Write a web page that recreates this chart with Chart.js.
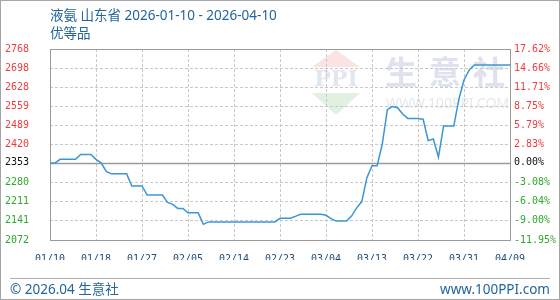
<!DOCTYPE html>
<html>
<head>
<meta charset="utf-8">
<script src="https://cdn.jsdelivr.net/npm/chart.js@4.4.1/dist/chart.umd.min.js"></script>
<style>
  html, body { margin: 0; padding: 0; background: #fff; }
  #wrap { position: relative; width: 560px; height: 300px; overflow: hidden;
          font-family: "Noto Sans", "Noto Sans CJK SC", sans-serif; color: #23659a; }
  #chart { position: absolute; left: 0; top: 0; }
  .txt { position: absolute; font-size: 13.5px; line-height: 18px; white-space: nowrap; }
  #frame { position: absolute; left: 0; top: 0; width: 560px; height: 300px;
           box-sizing: border-box; border: 1px solid #a6a6a6; pointer-events: none; }
  #sep { position: absolute; left: 10px; top: 278px; width: 540px; height: 1px; background: #b0b0b0; }
</style>
</head>
<body>
<div id="wrap">
  <canvas id="chart" width="560" height="300"></canvas>
  <div class="txt" style="left:50px; top:6px;">液氨 山东省 2026-01-10 - 2026-04-10</div>
  <div class="txt" style="left:50px; top:24px;">优等品</div>
  <div id="sep"></div>
  <div class="txt" style="left:10px; top:280px;">© 2026.04 生意社</div>
  <div class="txt" style="right:10px; top:280px;">www.100PPI.com</div>
  <div id="frame"></div>
</div>
<script>
// valori (un punto al giorno, 01/10 -> 04/10)
const basePrice = 2353;
const xTickLabels = ['01/10', '01/18', '01/27', '02/05', '02/14', '02/23', '03/04', '03/13', '03/22', '03/31', '04/09'];
const priceValues = [
  2353, 2353, 2366, 2366, 2366, 2366, 2384, 2384, 2384, 2366,
  2353, 2322, 2313, 2313, 2313, 2313, 2269, 2269, 2269, 2236,
  2236, 2236, 2236, 2209, 2202, 2187, 2187, 2171, 2171, 2171,
  2129, 2138, 2138, 2138, 2138, 2138, 2138, 2138, 2138, 2138,
  2138, 2138, 2138, 2138, 2138, 2151, 2151, 2151, 2158, 2166,
  2166, 2166, 2166, 2166, 2162, 2150, 2141, 2141, 2141, 2159,
  2189, 2212, 2299, 2343, 2343, 2420, 2547, 2558, 2554, 2531,
  2515, 2515, 2515, 2512, 2434, 2440, 2374, 2487, 2487, 2487,
  2585, 2655, 2691, 2710, 2710, 2710, 2710, 2710, 2710, 2710,
  2710
];
const yTickValues = [2072, 2141.6, 2211.2, 2280.8, 2353, 2420, 2489.6, 2559.2, 2628.8, 2698.4, 2768];
const yTickLabels = ['2072', '2141', '2211', '2280', '2353', '2420', '2489', '2559', '2628', '2698', '2768'];
const pctLabels = ['-11.95%', '-9.00%', '-6.04%', '-3.08%', '0.00%', '2.83%', '5.79%', '8.75%', '11.71%', '14.66%', '17.62%'];

const tickFont = { family: 'DejaVu Sans Mono', size: 10 };
const tickColor = c => c.tick.value > basePrice + 1 ? '#f03c3c' : (c.tick.value < basePrice - 1 ? '#2fa82f' : '#111');

// filigrana, linea dello zero e cornice
const decoPlugin = {
  id: 'deco',
  beforeDraw(chart) {
    const ctx = chart.ctx;
    ctx.save();
    ctx.fillStyle = '#fff';
    ctx.fillRect(0, 0, chart.width, chart.height);
    // logo
    ctx.fillStyle = '#fbe3e3';
    ctx.beginPath(); ctx.moveTo(336, 50); ctx.lineTo(360, 67); ctx.lineTo(312, 67); ctx.closePath(); ctx.fill();
    ctx.fillStyle = '#e0f0e3';
    ctx.beginPath(); ctx.moveTo(312, 93); ctx.lineTo(360, 93); ctx.lineTo(336, 115); ctx.closePath(); ctx.fill();
    ctx.fillStyle = '#e3e6f0';
    ctx.textAlign = 'center';
    ctx.textBaseline = 'middle';
    ctx.font = 'bold 22px "DejaVu Serif"';
    ctx.fillText('PPI', 336, 80);
    ctx.textAlign = 'left';
    ctx.fillStyle = '#dde2ee';
    ctx.font = 'bold 32px "Noto Sans CJK SC"';
    ['生', '意', '社'].forEach((ch, i) => ctx.fillText(ch, 385 + i * 44, 72));
    ctx.fillStyle = '#e6e8ee';
    ctx.font = '14px "Noto Sans"';
    ctx.fillText('WWW.100PPI.COM', 386, 104);
    ctx.restore();
  },
  beforeDatasetsDraw(chart) {
    const ctx = chart.ctx;
    const a = chart.chartArea;
    const yBase = Math.round(chart.scales.y.getPixelForValue(basePrice)) + 0.5;
    ctx.save();
    ctx.strokeStyle = '#9a9a9a';
    ctx.lineWidth = 1.5;
    ctx.beginPath(); ctx.moveTo(a.left, yBase); ctx.lineTo(a.right, yBase); ctx.stroke();
    ctx.lineWidth = 1;
    ctx.strokeRect(Math.round(a.left) + 0.5, Math.round(a.top) + 0.5,
                   Math.round(a.right - a.left), Math.round(a.bottom - a.top));
    ctx.restore();
  }
};

new Chart(document.getElementById('chart'), {
  type: 'line',
  data: {
    datasets: [{
      data: priceValues.map((v, i) => ({ x: i, y: v })),
      borderColor: '#3a96d6',
      borderWidth: 1.5,
      pointRadius: 0,
      tension: 0,
      fill: false
    }]
  },
  options: {
    responsive: false,
    animation: false,
    layout: { padding: { left: 5, right: 0, top: 49, bottom: 40 } },
    plugins: { legend: { display: false }, tooltip: { enabled: false } },
    scales: {
      x: {
        type: 'linear', min: 0, max: 90,
        afterBuildTicks: s => { s.ticks = xTickLabels.map((t, i) => ({ value: i * 9 })); },
        afterFit: s => { s.height = 20; },
        ticks: { callback: v => xTickLabels[Math.round(v / 9)], color: '#1f4e7a', font: tickFont,
                 padding: 13, maxRotation: 0, autoSkip: false },
        grid: { color: '#c8c8c8', drawTicks: false },
        border: { display: false, dash: [3, 2] }
      },
      y: {
        position: 'left', min: 2072, max: 2768,
        afterBuildTicks: s => { s.ticks = yTickValues.map(v => ({ value: v })); },
        afterFit: s => { s.width = 45; },
        ticks: { callback: (v, i) => yTickLabels[i], color: tickColor, font: tickFont, crossAlign: 'far' },
        grid: { color: c => c.tick && Math.abs(c.tick.value - basePrice) < 1 ? 'rgba(0,0,0,0)' : '#c8c8c8', drawTicks: false },
        border: { display: false, dash: [3, 2] }
      },
      y2: {
        position: 'right', min: 2072, max: 2768,
        afterBuildTicks: s => { s.ticks = yTickValues.map(v => ({ value: v })); },
        afterFit: s => { s.width = 50; },
        ticks: { callback: (v, i) => pctLabels[i], color: tickColor, font: tickFont, padding: 4 },
        grid: { drawOnChartArea: false, drawTicks: false },
        border: { display: false }
      }
    }
  },
  plugins: [decoPlugin]
});
</script>
</body>
</html>
